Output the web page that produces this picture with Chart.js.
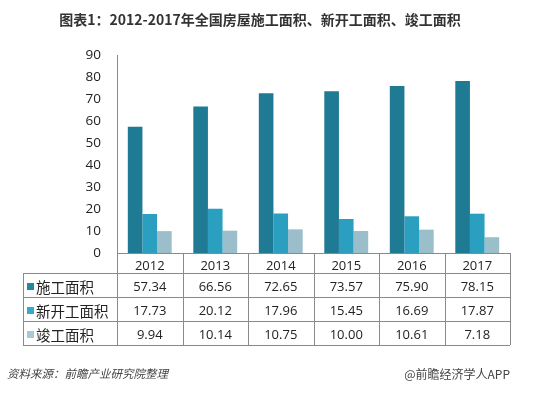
<!DOCTYPE html>
<html>
<head>
<meta charset="utf-8">
<script src="https://cdn.jsdelivr.net/npm/chart.js@4"></script>
<style>
  html, body { margin: 0; padding: 0; background: #fff; }
  canvas { display: block; }
</style>
</head>
<body>
<canvas id="areaChart" width="556" height="393"></canvas>
<script>
const years = ['2012', '2013', '2014', '2015', '2016', '2017'];
const seriesNames = ['施工面积', '新开工面积', '竣工面积'];
const underConstruction = [57.34, 66.56, 72.65, 73.57, 75.90, 78.15];
const newStarts = [17.73, 20.12, 17.96, 15.45, 16.69, 17.87];
const completed = [9.94, 10.14, 10.75, 10.00, 10.61, 7.18];
const yTicks = [0, 10, 20, 30, 40, 50, 60, 70, 80, 90];

const titleText = '图表1：2012-2017年全国房屋施工面积、新开工面积、竣工面积';
const sourceText = '资料来源：前瞻产业研究院整理';
const brandText = '@前瞻经济学人APP';

const colors = ['#2287a2', '#34abcb', '#a8c9d6'];
const fontFamily = "'Open Sans', 'Noto Sans CJK SC', sans-serif";
Chart.defaults.font.family = fontFamily;
Chart.defaults.color = '#333';

// horizontal gradient like the original bars (darker left edge)
function barFill(ctx, base, light) {
  const el = ctx.element;
  if (!el || el.x == null || !el.width) return base;
  const g = ctx.chart.ctx.createLinearGradient(el.x - el.width / 2, 0, el.x + el.width / 2, 0);
  g.addColorStop(0, base);
  g.addColorStop(1, light);
  return g;
}

const tablePlugin = {
  id: 'tablePlugin',
  afterDraw(chart) {
    const c = chart.ctx;
    const x = chart.scales.x;
    const area = chart.chartArea;
    const left = 23;
    const rowsY = [area.bottom, 273, 297, 321, 345];
    const half = (x.getPixelForValue(1) - x.getPixelForValue(0)) / 2;
    const rows = [underConstruction, newStarts, completed];

    c.save();
    c.strokeStyle = '#8a8a8a';
    c.lineWidth = 1;
    c.beginPath();
    for (let r = 1; r < rowsY.length; r++) {
      c.moveTo(left, rowsY[r] + 0.5);
      c.lineTo(area.right, rowsY[r] + 0.5);
    }
    c.moveTo(left + 0.5, rowsY[1]);
    c.lineTo(left + 0.5, rowsY[4]);
    for (let i = 0; i <= years.length; i++) {
      const px = Math.round(x.getPixelForValue(i) - half) + 0.5;
      c.moveTo(px, area.bottom);
      c.lineTo(px, rowsY[4]);
    }
    c.stroke();

    c.textBaseline = 'middle';
    for (let r = 0; r < rows.length; r++) {
      const cy = (rowsY[r + 1] + rowsY[r + 2]) / 2 + 2;
      c.fillStyle = colors[r];
      c.fillRect(27, cy - 4, 7, 7);
      c.fillStyle = '#222';
      c.textAlign = 'left';
      c.font = "14.5px 'Noto Sans CJK SC', sans-serif";
      c.fillText(seriesNames[r], 36, cy);
      c.textAlign = 'center';
      c.font = '13px ' + fontFamily;
      rows[r].forEach((v, i) => c.fillText(v.toFixed(2), x.getPixelForValue(i), cy));
    }

    // title and footer
    c.fillStyle = '#333';
    c.textAlign = 'center';
    c.font = "bold 14px 'Noto Sans CJK SC', sans-serif";
    c.fillText(titleText, 260, 20);
    c.fillStyle = '#444';
    c.textAlign = 'left';
    c.font = "italic 11.5px 'Noto Sans CJK SC', sans-serif";
    c.fillText(sourceText, 7, 374);
    c.textAlign = 'right';
    c.font = "12px 'Noto Sans CJK SC', sans-serif";
    c.fillText(brandText, 510, 374);
    c.restore();
  }
};

new Chart(document.getElementById('areaChart'), {
  type: 'bar',
  data: {
    labels: years,
    datasets: [
      { label: seriesNames[0], data: underConstruction, backgroundColor: ctx => barFill(ctx, '#1f7a93', '#2a93ae') },
      { label: seriesNames[1], data: newStarts, backgroundColor: ctx => barFill(ctx, '#2b9fc0', '#3cb6d6') },
      { label: seriesNames[2], data: completed, backgroundColor: ctx => barFill(ctx, '#9bbecb', '#b6d4df') }
    ]
  },
  options: {
    responsive: false,
    animation: false,
    layout: { padding: { top: 55, right: 46, bottom: 0, left: 0 } },
    plugins: {
      legend: { display: false },
      tooltip: { enabled: false }
    },
    datasets: {
      bar: { categoryPercentage: 0.67, barPercentage: 1.0 }
    },
    scales: {
      x: {
        grid: { display: false },
        border: { display: true, color: '#8a8a8a' },
        ticks: { padding: -3, color: '#222', font: { size: 13 } },
        afterFit: s => { s.height = 140; }
      },
      y: {
        min: 0,
        max: 90,
        afterBuildTicks: s => { s.ticks = yTicks.map(v => ({ value: v })); },
        grid: { display: false },
        border: { display: true, color: '#8a8a8a' },
        ticks: { padding: 8, color: '#222', font: { size: 13.5 } },
        afterFit: s => { s.width = 117; }
      }
    }
  },
  plugins: [tablePlugin]
});
</script>
</body>
</html>
